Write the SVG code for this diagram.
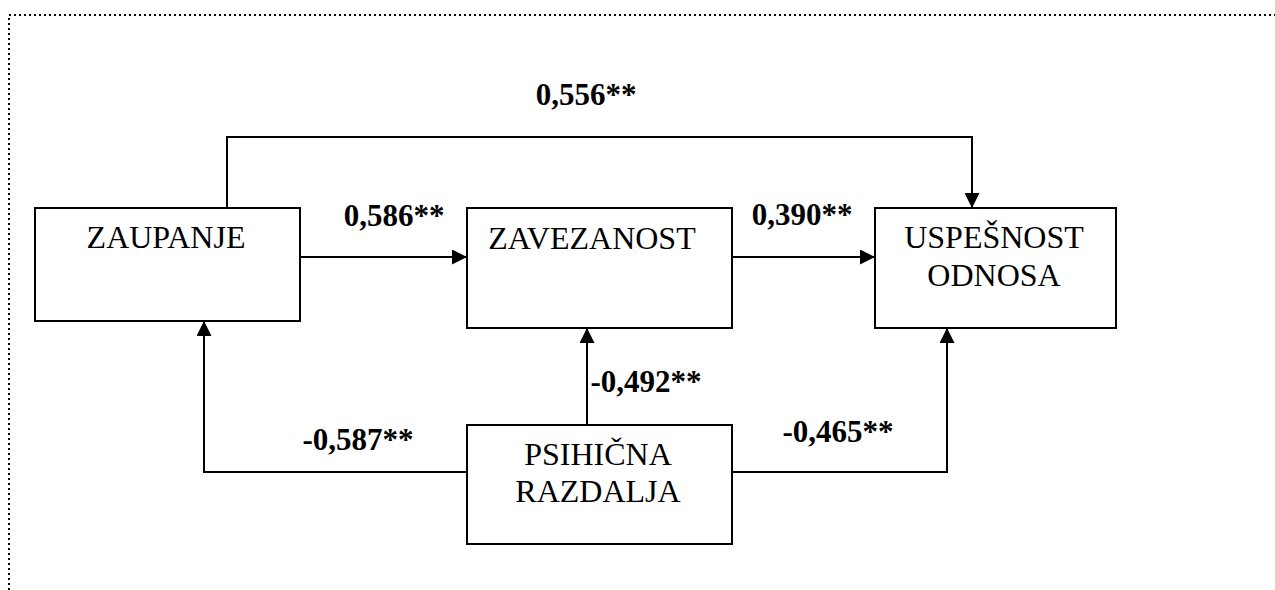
<svg xmlns="http://www.w3.org/2000/svg" width="1275" height="590" viewBox="0 0 1275 590">
<defs>
<marker id="arr" markerWidth="15" markerHeight="15" viewBox="0 0 15 15" refX="15" refY="7.5" orient="auto" markerUnits="userSpaceOnUse">
<path d="M0,0 L15,7.5 L0,15 Z" fill="#000"/>
</marker>
<style>
.box{fill:#fff;stroke:#000;stroke-width:2}
.node{font-family:"Liberation Serif","Times New Roman",serif;font-size:32px;fill:#000;text-anchor:middle}
.lbl{font-family:"Liberation Serif","Times New Roman",serif;font-size:31px;font-weight:bold;fill:#000;text-anchor:middle}
.conn{fill:none;stroke:#000;stroke-width:2}
.frame{fill:none;stroke:#000;stroke-width:2;stroke-dasharray:2 3}
</style>
</defs>
<rect width="1275" height="590" fill="#fff"/>
<path class="frame" d="M9,590 L9,15 L1275,15"/>
<g id="connectors">
<path class="conn" d="M227,208 L227,137 L972,137 L972,208" marker-end="url(#arr)"/>
<path class="conn" d="M300,257 L467,257" marker-end="url(#arr)"/>
<path class="conn" d="M732,257 L875,257" marker-end="url(#arr)"/>
<path class="conn" d="M587,425 L587,328" marker-end="url(#arr)"/>
<path class="conn" d="M467,472 L204,472 L204,321" marker-end="url(#arr)"/>
<path class="conn" d="M732,472 L947,472 L947,328" marker-end="url(#arr)"/>
<text class="lbl" x="586" y="105">0,556**</text>
<text class="lbl" x="394" y="226">0,586**</text>
<text class="lbl" x="802" y="225">0,390**</text>
<text class="lbl" x="646" y="392">-0,492**</text>
<text class="lbl" x="358" y="450">-0,587**</text>
<text class="lbl" x="838" y="442">-0,465**</text>
</g>
<g id="zaupanje">
<rect class="box" x="35" y="208" width="265" height="113"/>
<text class="node" x="166" y="248">ZAUPANJE</text>
</g>
<g id="zavezanost">
<rect class="box" x="467" y="208" width="265" height="120"/>
<text class="node" x="592" y="249">ZAVEZANOST</text>
</g>
<g id="uspesnost">
<rect class="box" x="875" y="208" width="241" height="120"/>
<text class="node" x="994" y="248">USPEŠNOST</text>
<text class="node" x="994" y="286">ODNOSA</text>
</g>
<g id="psihicna">
<rect class="box" x="467" y="425" width="265" height="119"/>
<text class="node" x="598" y="465">PSIHIČNA</text>
<text class="node" x="598" y="502">RAZDALJA</text>
</g>
</svg>
